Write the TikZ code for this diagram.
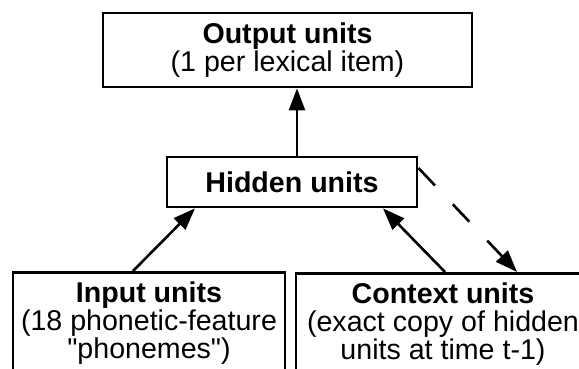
\documentclass[tikz,border=0pt]{standalone}
\usepackage{fontspec}
\newfontfamily\labelfont{Liberation Sans}
\usetikzlibrary{arrows.meta, positioning}

\begin{document}
\begin{tikzpicture}[x=0.5pt, y=-0.5pt,
                unitbox/.style={draw, rectangle, line width=1.4pt, align=center, inner sep=0pt,
                    font=\labelfont\fontsize{14.3}{14}\selectfont},
                arr/.style={draw, line width=1.3pt, -{Triangle[length=11pt, width=8pt]}},
                copyarr/.style={arr, dash pattern=on 12pt off 13pt}
            ]
            \useasboundingbox (0,0) rectangle (579,369);
            \clip (0,0) rectangle (579,369);

            % Layers of the network
            \node[unitbox, minimum width=184.5pt, minimum height=37pt] (output) at (287.5,50)
                {\textbf{Output units}\\(1 per lexical item)};
            \node[unitbox, minimum width=125pt, minimum height=25pt] (hidden) at (292,182)
                {\textbf{Hidden units}};
            \node[unitbox, anchor=north, minimum width=136pt, inner ysep=4.5pt] (input) at (149,271)
                {\textbf{Input units}\\(18 phonetic-feature\\"phonemes")};
            \node[unitbox, anchor=north, minimum width=147pt, inner ysep=4.5pt] (context) at (443,272)
                {\textbf{Context units}\\(exact copy of hidden\\units at time t-1)};

            % Connections
            \draw[arr] ([xshift=-8pt]input.north) -- ([xshift=-48.5pt]hidden.south);
            \draw[arr] ([xshift=1pt]context.north) -- ([xshift=45.5pt]hidden.south);
            \draw[arr] ([xshift=2.5pt]hidden.north) -- ([xshift=4.75pt]output.south);
            \draw[copyarr] ([yshift=7pt]hidden.east) -- ([xshift=37pt]context.north);
        \end{tikzpicture}
\end{document}
